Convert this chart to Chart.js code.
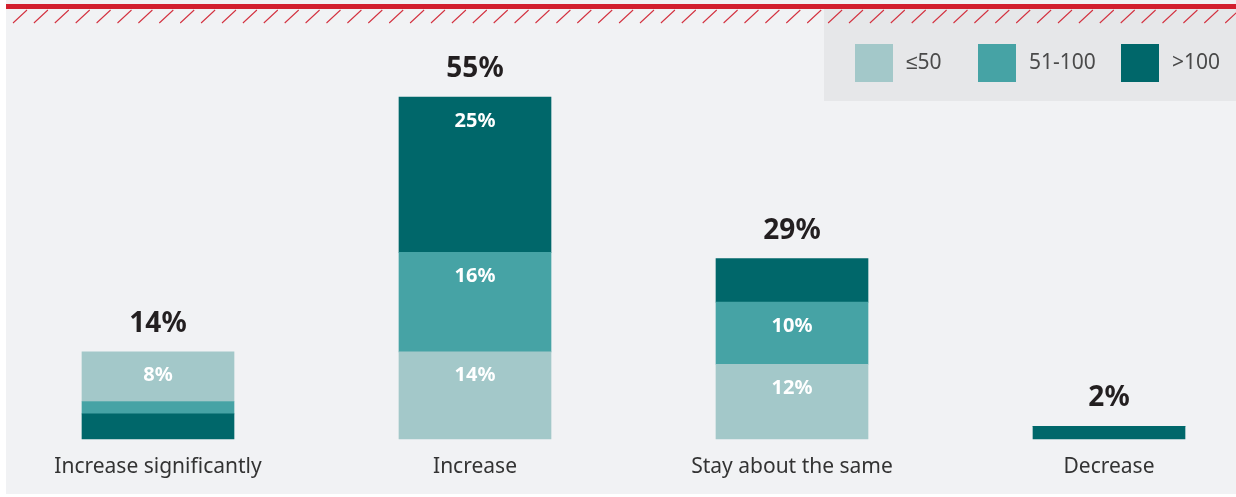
<!DOCTYPE html>
<html>
<head>
<meta charset="utf-8">
<script src="https://cdn.jsdelivr.net/npm/chart.js@4/dist/chart.umd.min.js"></script>
<style>
  html, body { margin: 0; padding: 0; background: #ffffff; }
  #wrap { position: relative; width: 1236px; height: 497px; }
</style>
</head>
<body>
<div id="wrap"><canvas id="outlookChart"></canvas></div>
<script>
const categories = ['Increase significantly', 'Increase', 'Stay about the same', 'Decrease']
const totals     = [14, 55, 29, 2]
const upTo50     = [8, 14, 12, 0]
const from51     = [2, 16, 10, 0]
const over100    = [4, 25, 7, 2]
// bars that stack the >100 share at the bottom instead of the top
const over100First = [true, false, false, true]

const seriesNames  = ['≤50', '51-100', '>100']
const seriesColors = ['#a3c8c9', '#46a3a5', '#00676a']

const FONT = '"Noto Sans", sans-serif'

// per bar: series index for each stack level, bottom to top
const levelOrder = over100First.map(first => first ? [2, 1, 0] : [0, 1, 2])
const seriesValues = [upTo50, from51, over100]

const datasets = [0, 1, 2].map(level => ({
    label: 'level ' + level,
    data: categories.map((c, i) => seriesValues[levelOrder[i][level]][i]),
    backgroundColor: categories.map((c, i) => seriesColors[levelOrder[i][level]]),
    borderWidth: 0,
    barThickness: 152,
    clip: false,
}))

// left edge of each legend swatch
const legendSlots = [855, 978, 1121]

const backdrop = {
    id: 'backdrop',
    beforeDraw(chart) {
        const ctx = chart.ctx
        const w = chart.width
        ctx.save()
        ctx.fillStyle = '#ffffff'
        ctx.fillRect(0, 0, w, chart.height)
        ctx.fillStyle = '#f1f2f4'
        ctx.fillRect(6, 0, w - 6, 494)
        // legend panel
        ctx.fillStyle = '#e6e7e9'
        ctx.fillRect(824, 9, w - 824, 92)
        // red rule and hatching along the top
        ctx.fillStyle = '#d21f2e'
        ctx.fillRect(6, 4, w - 6, 5)
        ctx.strokeStyle = '#d33240'
        ctx.lineWidth = 1.1
        ctx.beginPath()
        for (let x = 13; x < w; x += 20.9) {
            ctx.moveTo(x, 23)
            ctx.lineTo(x + 14, 10)
        }
        ctx.stroke()
        ctx.restore()
    },
    afterDraw(chart) {
        const ctx = chart.ctx
        ctx.save()
        ctx.font = '21px ' + FONT
        ctx.textBaseline = 'middle'
        ctx.textAlign = 'left'
        seriesNames.forEach((name, k) => {
            const x = legendSlots[k]
            ctx.fillStyle = seriesColors[k]
            ctx.fillRect(x, 44, 38, 38)
            ctx.fillStyle = '#4a4a4a'
            ctx.fillText(name, x + 51, 63)
        })
        ctx.restore()
    }
}

const valueLabels = {
    id: 'valueLabels',
    afterDatasetsDraw(chart) {
        const ctx = chart.ctx
        ctx.save()
        ctx.textAlign = 'center'
        ctx.textBaseline = 'middle'

        ctx.font = 'bold 20px ' + FONT
        ctx.fillStyle = '#ffffff'
        chart.data.datasets.forEach((ds, d) => {
            chart.getDatasetMeta(d).data.forEach((bar, i) => {
                const v = ds.data[i]
                if (v >= 8) ctx.fillText(v + '%', bar.x, bar.y + 24)
            })
        })

        ctx.font = 'bold 28px ' + FONT
        ctx.fillStyle = '#231f20'
        const yScale = chart.scales.y
        const xScale = chart.scales.x
        totals.forEach((t, i) => {
            ctx.fillText(t + '%', xScale.getPixelForValue(i), yScale.getPixelForValue(t) - 28)
        })
        ctx.restore()
    }
}

new Chart(document.getElementById('outlookChart'), {
    type: 'bar',
    data: {
        labels: categories,
        datasets: datasets
    },
    options: {
        responsive: true,
        maintainAspectRatio: false,
        animation: false,
        layout: {
            padding: { top: 97, left: 158, right: 127, bottom: 1 }
        },
        plugins: {
            legend: { display: false },
            tooltip: { enabled: false }
        },
        scales: {
            x: {
                stacked: true,
                offset: false,
                grid: { display: false, drawTicks: false },
                border: { display: false },
                ticks: {
                    padding: 16,
                    color: '#333333',
                    font: { family: FONT, size: 21 }
                }
            },
            y: {
                stacked: true,
                display: false,
                min: 0,
                max: 55
            }
        }
    },
    plugins: [backdrop, valueLabels]
})
</script>
</body>
</html>
